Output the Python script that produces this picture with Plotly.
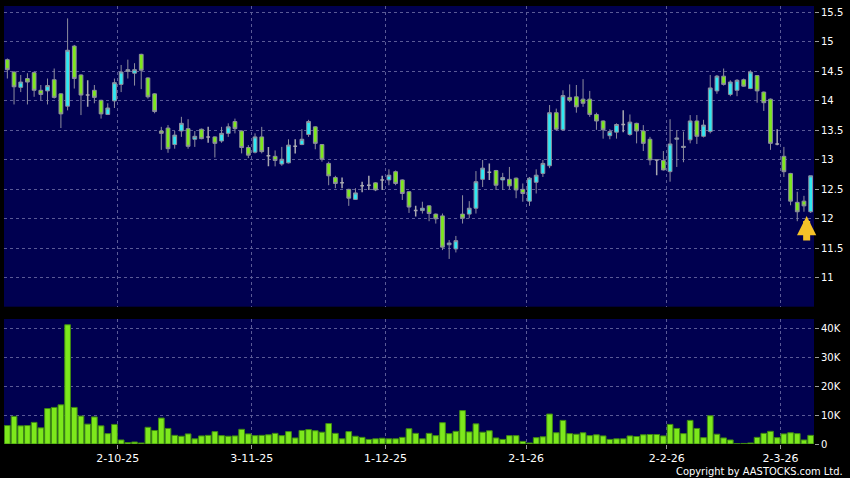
import plotly.graph_objects as go

# HK trading days shown on the chart, by month
trade_days = {
    "2025-09": [9, 10, 11, 12, 15, 16, 17, 18, 19, 22, 23, 24, 25, 26, 29, 30],
    "2025-10": [2, 3, 6, 8, 9, 10, 13, 14, 15, 16, 17, 20, 21, 22, 23, 24, 27, 28, 30, 31],
    "2025-11": [3, 4, 5, 6, 7, 10, 11, 12, 13, 14, 17, 18, 19, 20, 21, 24, 25, 26, 27, 28],
    "2025-12": [1, 2, 3, 4, 5, 8, 9, 10, 11, 12, 15, 16, 17, 18, 19, 22, 23, 24, 29, 30, 31],
    "2026-01": [2, 5, 6, 7, 8, 9, 12, 13, 14, 15, 16, 19, 20, 21, 22, 23, 26, 27, 28, 29, 30],
    "2026-02": [2, 3, 4, 5, 6, 9, 10, 11, 12, 13, 16, 20, 23, 24, 25, 26, 27],
    "2026-03": [2, 3, 4, 5, 6, 9],
}
dates = [f"{month}-{day:02d}" for month, days in trade_days.items() for day in days]

opens = [
    14.70, 14.49, 14.23, 14.38, 14.48, 14.18, 14.17, 14.36, 14.12, 13.91,
    14.93, 14.44, 14.10, 14.18, 14.01, 13.77, 14.00, 14.28, 14.50, 14.47,
    14.79, 14.39, 14.12, 13.49, 13.54, 13.26, 13.49, 13.53, 13.35, 13.52,
    13.39, 13.39, 13.32, 13.45, 13.65, 13.49, 13.21, 13.13, 13.39, 13.07,
    13.06, 12.93, 12.95, 13.23, 13.26, 13.43, 13.56, 13.26, 12.94, 12.70,
    12.61, 12.50, 12.33, 12.56, 12.57, 12.61, 12.66, 12.66, 12.80, 12.66,
    12.46, 12.14, 12.14, 12.22, 12.08, 12.05, 11.56, 11.49, 12.08, 12.08,
    12.18, 12.67, 12.79, 12.82, 12.66, 12.67, 12.69, 12.50, 12.30, 12.62,
    12.77, 12.90, 13.80, 13.51, 14.06, 14.07, 14.03, 14.03, 13.77, 13.66,
    13.41, 13.47, 13.60, 13.43, 13.62, 13.49, 13.35, 13.00, 12.99, 12.80,
    13.35, 13.21, 13.34, 13.66, 13.40, 13.48, 14.17, 14.42, 14.11, 14.18,
    14.36, 14.21, 14.43, 14.15, 14.03, 13.27, 13.06, 12.77, 12.28, 12.30,
    12.12,
]
highs = [
    14.72, 14.50, 14.44, 14.47, 14.50, 14.27, 14.38, 14.55, 14.13, 15.40,
    14.95, 14.45, 14.35, 14.27, 14.02, 13.96, 14.38, 14.61, 14.70, 14.64,
    14.80, 14.40, 14.13, 13.56, 13.59, 13.49, 13.73, 13.69, 13.49, 13.53,
    13.56, 13.40, 13.56, 13.62, 13.70, 13.50, 13.25, 13.45, 13.56, 13.22,
    13.16, 13.22, 13.35, 13.35, 13.52, 13.68, 13.57, 13.27, 12.97, 12.73,
    12.70, 12.51, 12.52, 12.63, 12.73, 12.62, 12.73, 12.84, 12.82, 12.67,
    12.47, 12.22, 12.29, 12.23, 12.09, 12.09, 11.64, 11.71, 12.40, 12.30,
    12.81, 13.00, 12.94, 12.83, 12.78, 12.88, 12.70, 12.60, 12.71, 12.84,
    13.00, 13.93, 13.87, 14.18, 14.28, 14.27, 14.37, 14.17, 13.80, 13.67,
    13.52, 13.62, 13.84, 13.77, 13.63, 13.59, 13.39, 13.01, 13.15, 13.69,
    13.50, 13.48, 13.76, 13.76, 13.68, 14.44, 14.44, 14.55, 14.35, 14.37,
    14.38, 14.52, 14.44, 14.16, 14.04, 13.52, 13.22, 12.78, 12.46, 12.39,
    12.73,
]
lows = [
    14.38, 13.94, 14.15, 13.94, 14.07, 14.01, 13.94, 14.04, 13.54, 13.84,
    14.21, 13.76, 13.90, 13.96, 13.70, 13.76, 13.88, 14.15, 14.38, 14.26,
    14.20, 14.04, 13.79, 13.17, 13.12, 13.19, 13.39, 13.19, 13.22, 13.35,
    13.29, 13.04, 13.29, 13.39, 13.45, 13.11, 13.03, 13.11, 13.11, 12.89,
    12.89, 12.90, 12.94, 13.11, 13.25, 13.39, 13.18, 12.97, 12.57, 12.52,
    12.52, 12.22, 12.32, 12.45, 12.49, 12.47, 12.49, 12.57, 12.57, 12.32,
    12.10, 12.04, 12.09, 11.96, 11.92, 11.47, 11.32, 11.43, 11.92, 12.01,
    12.09, 12.54, 12.66, 12.49, 12.49, 12.50, 12.35, 12.29, 12.22, 12.43,
    12.71, 12.86, 13.49, 13.49, 13.98, 13.80, 13.90, 13.73, 13.51, 13.36,
    13.35, 13.36, 13.47, 13.41, 13.28, 13.15, 12.91, 12.74, 12.82, 12.63,
    12.88, 12.96, 13.28, 13.27, 13.38, 13.45, 14.12, 14.26, 14.08, 14.08,
    14.24, 14.20, 13.97, 13.83, 13.17, 13.25, 12.71, 12.23, 11.96, 12.12,
    12.10,
]
closes = [
    14.53, 14.24, 14.32, 14.32, 14.18, 14.11, 14.26, 14.06, 13.78, 14.86,
    14.38, 14.10, 14.10, 14.06, 13.78, 13.88, 14.31, 14.49, 14.53, 14.53,
    14.52, 14.07, 13.82, 13.45, 13.19, 13.42, 13.62, 13.23, 13.40, 13.36,
    13.39, 13.28, 13.45, 13.56, 13.53, 13.21, 13.08, 13.39, 13.14, 13.07,
    12.99, 13.01, 13.25, 13.23, 13.35, 13.65, 13.28, 13.01, 12.73, 12.60,
    12.61, 12.35, 12.44, 12.56, 12.57, 12.49, 12.66, 12.74, 12.60, 12.43,
    12.20, 12.14, 12.18, 12.09, 12.00, 11.52, 11.59, 11.63, 12.01, 12.18,
    12.63, 12.86, 12.79, 12.57, 12.70, 12.56, 12.49, 12.43, 12.69, 12.74,
    12.94, 13.80, 13.52, 14.09, 14.01, 13.90, 13.96, 13.77, 13.66, 13.51,
    13.48, 13.60, 13.60, 13.64, 13.49, 13.28, 13.00, 13.00, 12.83, 13.27,
    13.37, 13.23, 13.66, 13.40, 13.59, 14.22, 14.42, 14.28, 14.32, 14.35,
    14.25, 14.49, 14.17, 13.97, 13.28, 13.27, 12.80, 12.30, 12.12, 12.22,
    12.73,
]
volumes = [
    6400, 9600, 6300, 6400, 7500, 5600, 12300, 12700, 13600, 41400,
    12700, 9700, 6900, 9400, 6300, 3600, 6800, 1400, 500, 700,
    350, 5800, 4700, 9000, 5400, 3000, 2700, 3500, 1800, 2800,
    3000, 4300, 2900, 2700, 2800, 5100, 3500, 2900, 3000, 3200,
    3700, 2900, 4300, 2100, 4700, 5000, 4600, 4100, 7100, 3700,
    1800, 4300, 2700, 2300, 1600, 1800, 2000, 1800, 1800, 2300,
    5300, 3700, 1800, 3700, 2900, 7400, 3600, 4400, 11600, 4200,
    7000, 4100, 4600, 2100, 1600, 2900, 2900, 900, 350, 2200,
    2500, 10400, 3900, 8200, 3600, 3400, 3900, 2900, 3200, 2800,
    1600, 1800, 1800, 2800, 2600, 3200, 3300, 3300, 2800, 6800,
    5400, 3600, 8200, 5400, 2200, 9800, 3400, 2100, 1400, 100,
    200, 350, 2300, 3700, 4400, 2200, 3500, 3900, 3600, 1400,
    3000,
]

tick_dates = ["2025-10-02", "2025-11-03", "2025-12-01", "2026-01-02", "2026-02-02", "2026-03-02"]
tick_labels = ["2-10-25", "3-11-25", "1-12-25", "2-1-26", "2-2-26", "2-3-26"]
price_ticks = [11, 11.5, 12, 12.5, 13, 13.5, 14, 14.5, 15, 15.5]
vol_ticks = [0, 10000, 20000, 30000, 40000]
vol_labels = ["0", "10K", "20K", "30K", "40K"]

NAVY = "#000050"
GRID = "#5a5a96"
CYAN = "#2ee9f4"
LIME = "#7de81c"
WICK = "#8e8e9e"

# month gridlines sit on the boundary just after the first session of each month
tick_pos = [dates.index(d) + 0.5 for d in tick_dates]

# split the flat (open == close) days out so they can be drawn grey
flat = [o == c for o, c in zip(opens, closes)]


def pick(values, keep):
    return [v for v, k in zip(values, flat) if k == keep]


fig = go.Figure()

fig.add_trace(
    go.Candlestick(
        x=pick(dates, False),
        open=pick(opens, False),
        high=pick(highs, False),
        low=pick(lows, False),
        close=pick(closes, False),
        increasing=dict(fillcolor=CYAN, line=dict(color=WICK, width=1)),
        decreasing=dict(fillcolor=LIME, line=dict(color=WICK, width=1)),
        whiskerwidth=0,
        showlegend=False,
        xaxis="x",
        yaxis="y",
    )
)
fig.add_trace(
    go.Candlestick(
        x=pick(dates, True),
        open=pick(opens, True),
        high=pick(highs, True),
        low=pick(lows, True),
        close=pick(closes, True),
        increasing=dict(fillcolor="#a8a8b0", line=dict(color="#a8a8b0", width=1.5)),
        decreasing=dict(fillcolor="#a8a8b0", line=dict(color="#a8a8b0", width=1.5)),
        whiskerwidth=0,
        showlegend=False,
        xaxis="x",
        yaxis="y",
    )
)

fig.add_trace(
    go.Bar(
        x=dates,
        y=volumes,
        marker=dict(color=LIME, line=dict(color="#3f8a12", width=1)),
        showlegend=False,
        xaxis="x2",
        yaxis="y2",
    )
)

# arrow marking the latest session
fig.add_annotation(
    x=dates[-1],
    y=lows[-1] - 0.05,
    xref="x",
    yref="y",
    ax=0,
    ay=26,
    xshift=-4,
    showarrow=True,
    arrowhead=2,
    arrowsize=0.55,
    arrowwidth=7,
    arrowcolor="#f5c228",
    text="",
)

fig.add_annotation(
    text="Copyright by AASTOCKS.com Ltd.",
    xref="paper",
    yref="paper",
    x=1.038,
    y=-0.062,
    xanchor="right",
    yanchor="middle",
    showarrow=False,
    font=dict(family="DejaVu Sans Condensed, DejaVu Sans", size=11, color="white"),
)

x_common = dict(
    type="category",
    categoryorder="array",
    categoryarray=dates,
    range=[-0.5, len(dates) - 0.5],
    tickvals=tick_pos,
    showgrid=True,
    gridcolor=GRID,
    griddash="3px,3px",
    gridwidth=1,
    zeroline=False,
    showline=False,
)
y_common = dict(
    side="right",
    showgrid=True,
    gridcolor=GRID,
    griddash="3px,3px",
    gridwidth=1,
    zeroline=False,
    showline=False,
    ticks="outside",
    ticklen=4,
    tickcolor="#9a9a9a",
    tickfont=dict(family="DejaVu Sans", size=10, color="white"),
)

fig.update_layout(
    width=850,
    height=478,
    margin=dict(l=4, r=36, t=6, b=34),
    paper_bgcolor="black",
    plot_bgcolor=NAVY,
    boxgap=0.2,
    bargap=0.15,
    xaxis=dict(
        x_common,
        domain=[0, 1],
        anchor="y",
        showticklabels=False,
        ticks="",
        rangeslider=dict(visible=False),
    ),
    yaxis=dict(
        y_common,
        domain=[0.3135, 1],
        range=[10.51, 15.61],
        tickvals=price_ticks,
        ticktext=[f"{v:g}" for v in price_ticks],
    ),
    xaxis2=dict(
        x_common,
        domain=[0, 1],
        anchor="y2",
        matches="x",
        ticktext=tick_labels,
        ticks="outside",
        ticklen=4,
        tickcolor="#9a9a9a",
        tickfont=dict(family="DejaVu Sans", size=11, color="white"),
    ),
    yaxis2=dict(
        y_common,
        domain=[0, 0.2854],
        range=[0, 43400],
        tickvals=vol_ticks,
        ticktext=vol_labels,
    ),
)

fig.write_html(
    "out.html",
    config={"displayModeBar": False},
    post_script="document.body.style.margin = '0';",
)
